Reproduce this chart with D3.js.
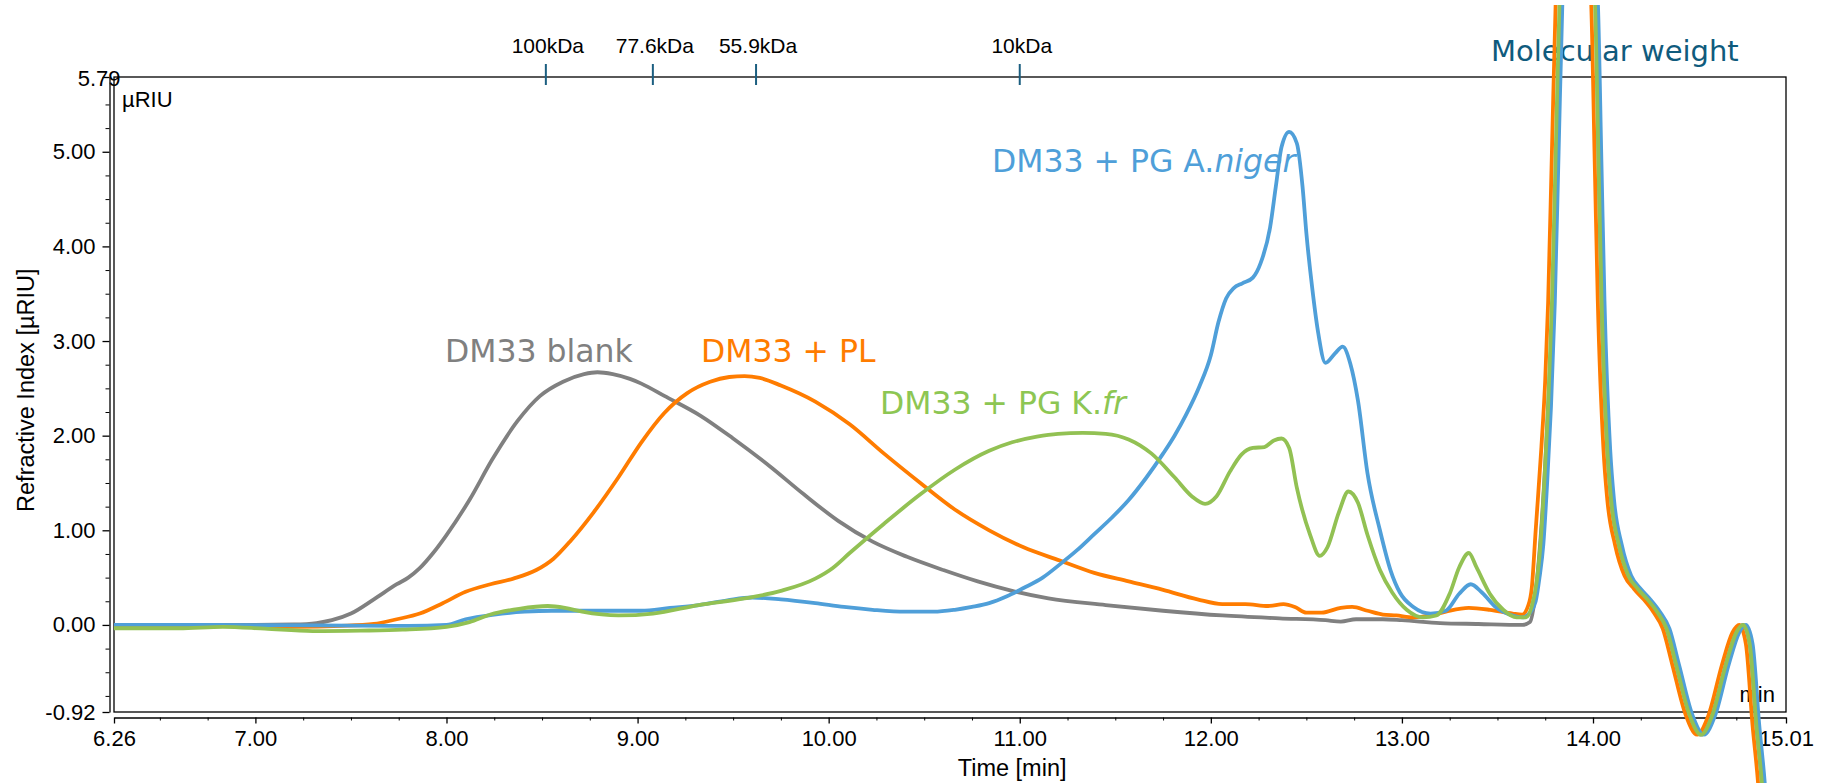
<!DOCTYPE html>
<html>
<head>
<meta charset="utf-8">
<script src="https://cdn.jsdelivr.net/npm/d3@7"></script>
<style>
body { margin: 0; background: #fff; }
</style>
</head>
<body>
<div id="chart"></div>
<script>
// chromatogram traces: [time (min), refractive index (µRIU)]
const blank = [[6.26,0.0],[6.6,0.0],[7.0,0.0],[7.2,0.005],[7.32,0.02],[7.4,0.05],[7.5,0.12],[7.62,0.27],[7.74,0.43],[7.8,0.5],[7.86,0.6],[7.93,0.76],[8.0,0.95],[8.12,1.32],[8.24,1.75],[8.37,2.15],[8.49,2.42],[8.61,2.57],[8.72,2.65],[8.79,2.67],[8.87,2.65],[8.96,2.6],[9.02,2.55],[9.14,2.42],[9.33,2.21],[9.5,1.97],[9.69,1.68],[9.87,1.38],[10.05,1.1],[10.23,0.88],[10.41,0.72],[10.6,0.58],[10.78,0.46],[10.96,0.36],[11.15,0.28],[11.45,0.21],[11.75,0.15],[12.06,0.1],[12.36,0.07],[12.6,0.05],[12.68,0.035],[12.76,0.06],[12.9,0.06],[13.0,0.05],[13.2,0.02],[13.4,0.01],[13.63,0.0],[13.67,0.03],[13.70,0.35],[13.725,0.9],[13.75,1.7],[13.77,2.5],[13.79,3.4],[13.81,5.0],[13.83,6.6],[13.87,8.0],[13.96,8.0],[14.015,6.6],[14.03,4.8],[14.045,3.4],[14.075,1.85],[14.095,1.32],[14.135,0.85],[14.185,0.52],[14.235,0.38],[14.285,0.27],[14.335,0.14],[14.385,-0.04],[14.435,-0.42],[14.505,-0.95],[14.565,-1.16],[14.625,-0.95],[14.695,-0.42],[14.75,-0.08],[14.785,0.0],[14.82,-0.2],[14.855,-1.06],[14.885,-1.7],[14.935,-3.5]];

const pl = [[6.26,-0.01],[6.8,-0.01],[7.2,-0.02],[7.45,-0.01],[7.62,0.01],[7.74,0.06],[7.86,0.12],[7.98,0.23],[8.1,0.35],[8.23,0.43],[8.35,0.49],[8.47,0.58],[8.56,0.7],[8.65,0.89],[8.77,1.19],[8.9,1.56],[9.02,1.93],[9.14,2.24],[9.26,2.45],[9.38,2.57],[9.48,2.62],[9.56,2.63],[9.64,2.61],[9.75,2.53],[9.93,2.36],[10.11,2.12],[10.29,1.81],[10.48,1.5],[10.66,1.22],[10.84,1.0],[11.02,0.82],[11.21,0.68],[11.39,0.55],[11.57,0.46],[11.75,0.37],[11.93,0.27],[12.06,0.22],[12.18,0.22],[12.3,0.2],[12.38,0.22],[12.44,0.19],[12.5,0.13],[12.58,0.13],[12.68,0.18],[12.74,0.19],[12.82,0.15],[12.9,0.11],[12.97,0.1],[13.06,0.08],[13.15,0.1],[13.23,0.14],[13.35,0.18],[13.46,0.16],[13.58,0.12],[13.63,0.11],[13.66,0.2],[13.68,0.4],[13.70,1.0],[13.73,1.88],[13.75,2.59],[13.765,3.4],[13.785,5.0],[13.805,6.6],[13.845,8.0],[13.935,8.0],[13.99,6.6],[14.01,4.8],[14.025,3.43],[14.055,1.85],[14.075,1.32],[14.115,0.85],[14.165,0.52],[14.215,0.38],[14.265,0.27],[14.315,0.14],[14.365,-0.04],[14.415,-0.42],[14.485,-0.95],[14.545,-1.16],[14.605,-0.95],[14.675,-0.42],[14.73,-0.08],[14.765,0.0],[14.8,-0.2],[14.835,-1.06],[14.865,-1.7],[14.915,-3.5]];

const kfr = [[6.26,-0.035],[6.6,-0.035],[6.83,-0.02],[7.05,-0.04],[7.3,-0.065],[7.55,-0.06],[7.77,-0.05],[8.0,-0.02],[8.12,0.03],[8.23,0.11],[8.38,0.17],[8.53,0.2],[8.62,0.18],[8.71,0.14],[8.9,0.1],[9.08,0.12],[9.32,0.21],[9.56,0.28],[9.75,0.36],[9.93,0.49],[10.02,0.6],[10.11,0.76],[10.29,1.07],[10.48,1.38],[10.66,1.64],[10.84,1.84],[10.96,1.93],[11.09,1.99],[11.2,2.02],[11.33,2.03],[11.45,2.02],[11.57,1.96],[11.69,1.81],[11.81,1.56],[11.9,1.36],[11.97,1.28],[12.03,1.36],[12.1,1.62],[12.16,1.8],[12.22,1.87],[12.28,1.88],[12.33,1.95],[12.37,1.97],[12.41,1.87],[12.45,1.45],[12.52,0.95],[12.57,0.73],[12.61,0.82],[12.67,1.19],[12.72,1.41],[12.77,1.29],[12.82,0.95],[12.885,0.58],[12.95,0.34],[13.025,0.16],[13.11,0.08],[13.18,0.1],[13.25,0.33],[13.3,0.61],[13.35,0.76],[13.39,0.61],[13.46,0.33],[13.53,0.16],[13.6,0.08],[13.65,0.08],[13.68,0.2],[13.705,0.45],[13.725,0.85],[13.745,1.5],[13.765,2.3],[13.785,3.4],[13.805,5.0],[13.825,6.6],[13.865,8.0],[13.955,8.0],[14.01,6.6],[14.03,4.8],[14.045,3.43],[14.075,1.85],[14.095,1.32],[14.135,0.85],[14.185,0.52],[14.235,0.38],[14.285,0.27],[14.335,0.14],[14.385,-0.04],[14.435,-0.42],[14.505,-0.95],[14.565,-1.16],[14.625,-0.95],[14.695,-0.42],[14.75,-0.08],[14.785,0.0],[14.82,-0.2],[14.855,-1.06],[14.885,-1.7],[14.935,-3.5]];

const aniger = [[6.26,0.0],[6.8,0.0],[7.3,-0.005],[7.8,-0.01],[8.0,0.0],[8.1,0.06],[8.25,0.11],[8.41,0.14],[8.55,0.15],[8.71,0.15],[8.88,0.15],[9.02,0.15],[9.17,0.18],[9.32,0.21],[9.47,0.26],[9.6,0.29],[9.75,0.27],[9.93,0.23],[10.08,0.19],[10.23,0.16],[10.4,0.14],[10.55,0.14],[10.66,0.16],[10.75,0.19],[10.84,0.23],[10.93,0.3],[11.02,0.39],[11.12,0.5],[11.21,0.64],[11.3,0.79],[11.39,0.96],[11.48,1.13],[11.57,1.32],[11.66,1.55],[11.75,1.81],[11.81,2.0],[11.87,2.22],[11.94,2.52],[12.0,2.85],[12.04,3.2],[12.08,3.45],[12.12,3.56],[12.165,3.61],[12.22,3.67],[12.26,3.82],[12.31,4.2],[12.34,4.63],[12.37,5.05],[12.41,5.21],[12.45,5.09],[12.48,4.63],[12.5,4.14],[12.53,3.57],[12.56,3.11],[12.6,2.77],[12.65,2.87],[12.69,2.94],[12.73,2.76],[12.77,2.37],[12.82,1.6],[12.885,1.0],[12.94,0.58],[12.99,0.34],[13.06,0.19],[13.15,0.12],[13.23,0.15],[13.3,0.33],[13.36,0.43],[13.42,0.34],[13.49,0.19],[13.58,0.1],[13.63,0.08],[13.67,0.13],[13.70,0.25],[13.72,0.5],[13.74,0.85],[13.76,1.5],[13.78,2.3],[13.80,3.4],[13.82,5.0],[13.84,6.6],[13.88,8.0],[13.97,8.0],[14.025,6.6],[14.045,4.8],[14.06,3.43],[14.09,1.85],[14.11,1.32],[14.15,0.85],[14.2,0.52],[14.25,0.38],[14.3,0.27],[14.35,0.14],[14.4,-0.04],[14.45,-0.42],[14.52,-0.95],[14.58,-1.16],[14.64,-0.95],[14.71,-0.42],[14.765,-0.08],[14.80,0.0],[14.835,-0.2],[14.87,-1.06],[14.9,-1.7],[14.95,-3.5]];

const seriesData = [blank, pl, aniger, kfr];
const seriesColors = ["#808080", "#ff7c00", "#4f9fd9", "#92c153"];

const mwTimes = [8.52, 9.08, 9.62, 11.0];
const mwLabels = ["100kDa", "77.6kDa", "55.9kDa", "10kDa"];

const xTicks = [6.26, 7, 8, 9, 10, 11, 12, 13, 14, 15.01];
const yTicks = [-0.92, 0, 1, 2, 3, 4, 5, 5.79];

let width = 1824;
let height = 783;
let margin = ({ top: 77, bottom: 71, left: 114, right: 38 });
let axisFont = "'Liberation Sans', Arial, sans-serif";
let labelFont = "'DejaVu Sans', Verdana, sans-serif";
let fmt = d => d.toFixed(2);

let xScale = d3.scaleLinear()
    .domain([6.26, 15.01])
    .range([margin.left, width - margin.right]);
let yScale = d3.scaleLinear()
    .domain([-0.92, 5.79])
    .range([height - margin.bottom, margin.top]);

let svg = d3.select("#chart")
    .append("svg")
    .attr("width", width)
    .attr("height", height)
    .attr("viewBox", [0, 0, width, height]);

// plot frame
svg.append("rect")
    .attr("x", margin.left)
    .attr("y", margin.top)
    .attr("width", width - margin.left - margin.right)
    .attr("height", height - margin.top - margin.bottom)
    .attr("fill", "none")
    .attr("stroke", "#000")
    .attr("stroke-width", 1.3);

let minorX = d3.range(6.5, 15.0, 0.25).filter(d => d % 1 !== 0);
let minorY = d3.range(-0.75, 5.6, 0.25).filter(d => d % 1 !== 0);

// bottom axis, a little below the frame
let xAxisY = height - margin.bottom + 5.5;
svg.append("g")
    .attr("transform", `translate(0,${xAxisY})`)
    .call(d3.axisBottom(xScale).tickValues(minorX).tickSize(3).tickFormat(""))
    .call(g => g.select(".domain").remove());
svg.append("g")
    .attr("transform", `translate(0,${xAxisY})`)
    .call(d3.axisBottom(xScale).tickValues(xTicks).tickSize(6).tickSizeOuter(0).tickPadding(6.5).tickFormat(fmt))
    .call(g => g.selectAll("text").attr("font-size", 22).attr("font-family", axisFont).attr("fill", "#000"))
    .call(g => g.selectAll("line, path").attr("stroke", "#000").attr("stroke-width", 1.3));

// left axis
let yAxisX = margin.left - 4.5;
svg.append("g")
    .attr("transform", `translate(${yAxisX},0)`)
    .call(d3.axisLeft(yScale).tickValues(minorY).tickSize(4).tickFormat(""))
    .call(g => g.select(".domain").remove());
svg.append("g")
    .attr("transform", `translate(${yAxisX},0)`)
    .call(d3.axisLeft(yScale).tickValues(yTicks).tickSize(7).tickSizeOuter(0).tickPadding(7).tickFormat(fmt))
    .call(g => g.selectAll("text").attr("font-size", 22).attr("font-family", axisFont).attr("fill", "#000"))
    .call(g => g.selectAll("line, path").attr("stroke", "#000").attr("stroke-width", 1.3))
    .call(g => g.selectAll(".tick").filter(d => d === 5.79).select("text").attr("x", 11).attr("dy", "0.4em"));

// axis titles and units
svg.append("text")
    .attr("x", xScale(10.96))
    .attr("y", 776)
    .attr("text-anchor", "middle")
    .attr("font-family", axisFont)
    .attr("font-size", 23.5)
    .text("Time [min]");
svg.append("text")
    .attr("transform", `translate(34,${yScale(2.48)}) rotate(-90)`)
    .attr("text-anchor", "middle")
    .attr("font-family", axisFont)
    .attr("font-size", 23.5)
    .text("Refractive Index [µRIU]");
svg.append("text")
    .attr("x", margin.left + 8)
    .attr("y", 107)
    .attr("font-family", axisFont)
    .attr("font-size", 22)
    .text("µRIU");
svg.append("text")
    .attr("x", width - margin.right - 11)
    .attr("y", 702)
    .attr("text-anchor", "end")
    .attr("font-family", axisFont)
    .attr("font-size", 22)
    .text("min");

// molecular weight markers along the top
let mw = svg.append("g");
mw.selectAll("line")
    .data(mwTimes)
    .join("line")
    .attr("x1", d => xScale(d))
    .attr("x2", d => xScale(d))
    .attr("y1", margin.top - 13)
    .attr("y2", margin.top + 8)
    .attr("stroke", "#1b5e80")
    .attr("stroke-width", 2);
mw.selectAll("text")
    .data(mwTimes)
    .join("text")
    .attr("x", d => xScale(d) + 2)
    .attr("y", 53)
    .attr("text-anchor", "middle")
    .attr("font-family", axisFont)
    .attr("font-size", 21)
    .text((d, i) => mwLabels[i]);
svg.append("text")
    .attr("x", 1491)
    .attr("y", 61)
    .attr("font-family", labelFont)
    .attr("font-size", 29)
    .attr("fill", "#0f5b7d")
    .text("Molecular weight");

// series labels
let labels = svg.append("g")
    .attr("font-family", labelFont)
    .attr("font-size", 31.5);
labels.append("text").attr("x", 445).attr("y", 362).attr("fill", seriesColors[0]).text("DM33 blank");
labels.append("text").attr("x", 701).attr("y", 362).attr("fill", seriesColors[1]).text("DM33 + PL");
let tk = labels.append("text").attr("x", 880).attr("y", 414).attr("fill", "#8dc653");
tk.append("tspan").text("DM33 + PG K.");
tk.append("tspan").attr("font-style", "italic").text("fr");
let ta = labels.append("text").attr("x", 992).attr("y", 172).attr("fill", seriesColors[2]);
ta.append("tspan").text("DM33 + PG A.");
ta.append("tspan").attr("font-style", "italic").text("niger");

// traces (they run past the frame at the solvent peak)
svg.append("clipPath")
    .attr("id", "clip")
    .append("rect")
    .attr("x", margin.left)
    .attr("y", 5)
    .attr("width", width - margin.left - margin.right)
    .attr("height", height - 5);

let line = d3.line()
    .curve(d3.curveMonotoneX)
    .x(d => xScale(d[0]))
    .y(d => yScale(d[1]));

svg.append("g")
    .attr("clip-path", "url(#clip)")
    .selectAll("path")
    .data(seriesData)
    .join("path")
    .attr("fill", "none")
    .attr("stroke", (d, i) => seriesColors[i])
    .attr("stroke-width", 3.8)
    .attr("stroke-linejoin", "round")
    .attr("d", line);
</script>
</body>
</html>
